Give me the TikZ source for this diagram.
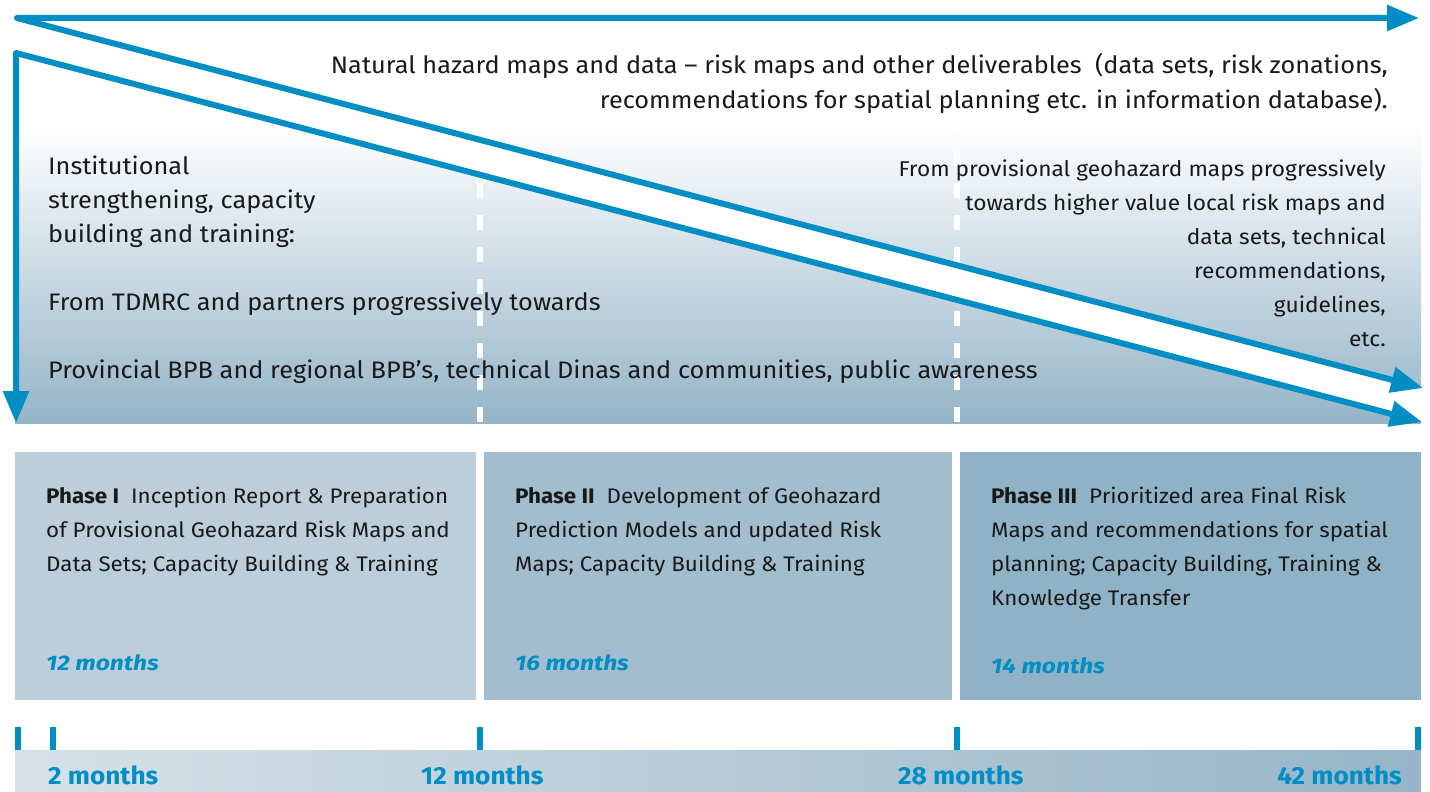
\documentclass[tikz,border=0pt]{standalone}
\usepackage{fontspec}
\setmainfont{Fira Sans}[FakeStretch=1.06]
\usetikzlibrary{arrows.meta}
\definecolor{arrowblue}{RGB}{0,142,196}
\definecolor{bgbottom}{RGB}{148,180,200}
\definecolor{phaseA}{RGB}{188,206,218}
\definecolor{phaseB}{RGB}{161,189,206}
\definecolor{phaseC}{RGB}{144,178,199}
\definecolor{barleft}{RGB}{214,225,232}
\definecolor{barright}{RGB}{150,181,200}
\definecolor{txt}{RGB}{25,25,25}
\tikzset{
  bigarrow/.style={draw=arrowblue, line width=6pt, line join=round,
     {Triangle[length=32pt,width=25pt]}-{Triangle[length=32pt,width=25pt]}},
  divider/.style={draw=white, line width=6pt, dash pattern=on 15pt off 17pt},
  tickmark/.style={draw=arrowblue, line width=6pt},
  maintext/.style={inner sep=0pt, text=txt, font=\fontsize{23.9}{34}\selectfont},
  sidetext/.style={inner sep=0pt, text=txt, font=\fontsize{21.4}{34}\selectfont},
  phasetext/.style={inner sep=0pt, text=txt, anchor=base west, font=\fontsize{21.1}{34}\selectfont},
  duration/.style={inner sep=0pt, text=arrowblue, anchor=base west, font=\fontsize{21}{34}\selectfont\bfseries\itshape\addfontfeature{FakeStretch=1.17}},
  milestone/.style={inner sep=0pt, text=arrowblue, font=\fontsize{24.7}{34}\selectfont\bfseries},
}
\begin{document}
\begin{tikzpicture}[x=1pt,y=-1pt]
\useasboundingbox (0,0) rectangle (1430,792);
% background gradient
\fill[white] (15,17) rectangle (1421,125);
\shade[top color=white, bottom color=bgbottom] (15,125) rectangle (1421,423);
% coordinates of arrows
\coordinate (c1) at (17,18);
\coordinate (tipA) at (1419,18);
\coordinate (tipB) at (1423,388);
\coordinate (c2) at (16,53);
\coordinate (tipD) at (16,423);
\coordinate (tipC) at (1422,422);
% white band between diagonals
\fill[white] (c1) -- (tipB) -- (tipC) -- (c2) -- cycle;
% dashed dividers
\coordinate (d1t) at (480,119);
\coordinate (d1b) at (480,423);
\coordinate (d2t) at (957,119);
\coordinate (d2b) at (957,423);
\draw[divider] (d1t) -- (d1b);
\draw[divider] (d2t) -- (d2b);
% arrows
\draw[bigarrow] (tipA) -- (c1) -- (tipB);
\draw[bigarrow] (tipD) -- (c2) -- (tipC);
% top texts
\node[maintext, anchor=base east] (t1) at (1388,74) {Natural hazard maps and data – risk maps and other deliverables\ \ (data sets, risk zonations,};
\node[maintext, anchor=base east] (t2) at (1388,108) {recommendations for spatial planning etc. in information database).};
% left texts
\node[maintext, anchor=base west] (l1) at (48,174) {Institutional};
\node[maintext, anchor=base west] (l2) at (48,208) {strengthening, capacity};
\node[maintext, anchor=base west] (l3) at (48,242) {building and training:};
\node[maintext, anchor=base west] (l4) at (48,310) {From TDMRC and partners progressively towards};
\node[maintext, anchor=base west] (l5) at (48,378) {Provincial BPB and regional BPB’s, technical Dinas and communities, public awareness};
% right texts
\node[sidetext, anchor=base east] (r1) at (1386,176) {From provisional geohazard maps progressively};
\node[sidetext, anchor=base east] (r2) at (1386,210) {towards higher value local risk maps and};
\node[sidetext, anchor=base east] (r3) at (1386,244) {data sets, technical};
\node[sidetext, anchor=base east] (r4) at (1386,278) {recommendations,};
\node[sidetext, anchor=base east] (r5) at (1386,312) {guidelines,};
\node[sidetext, anchor=base east] (r6) at (1386,346) {etc.};
% phase boxes
\fill[phaseA] (15,452) rectangle (476,700);
\fill[phaseB] (484,452) rectangle (952,700);
\fill[phaseC] (960,452) rectangle (1421,700);
% phase I
\node[phasetext] (p1a) at (46,503) {\textbf{Phase I}\hspace{12pt}Inception Report \& Preparation};
\node[phasetext] (p1b) at (46,537) {of Provisional Geohazard Risk Maps and};
\node[phasetext] (p1c) at (46,571) {Data Sets; Capacity Building \& Training};
\node[duration] (m1) at (46,670) {12 months};
% phase II
\node[phasetext] (p2a) at (515,503) {\textbf{Phase II}\hspace{12pt}Development of Geohazard};
\node[phasetext] (p2b) at (515,537) {Prediction Models and updated Risk};
\node[phasetext] (p2c) at (515,571) {Maps; Capacity Building \& Training};
\node[duration] (m2) at (515,670) {16 months};
% phase III
\node[phasetext] (p3a) at (991,503) {\textbf{Phase III}\hspace{12pt}Prioritized area Final Risk};
\node[phasetext] (p3b) at (991,537) {Maps and recommendations for spatial};
\node[phasetext] (p3c) at (991,571) {planning; Capacity Building, Training \&};
\node[phasetext] (p3d) at (991,605) {Knowledge Transfer};
\node[duration] (m3) at (991,673) {14 months};
% timeline bar
\shade[left color=barleft, right color=barright] (15,750) rectangle (1421,792);
\coordinate (k1t) at (18,727);   \coordinate (k1b) at (18,750);
\coordinate (k2t) at (53,727);   \coordinate (k2b) at (53,750);
\coordinate (k3t) at (480,727);  \coordinate (k3b) at (480,750);
\coordinate (k4t) at (957,727);  \coordinate (k4b) at (957,750);
\coordinate (k5t) at (1418,727); \coordinate (k5b) at (1418,750);
\draw[tickmark] (k1t) -- (k1b);
\draw[tickmark] (k2t) -- (k2b);
\draw[tickmark] (k3t) -- (k3b);
\draw[tickmark] (k4t) -- (k4b);
\draw[tickmark] (k5t) -- (k5b);
\node[milestone, anchor=base west] (ms1) at (48,784) {2 months};
\node[milestone, anchor=base west] (ms2) at (421,784) {12 months};
\node[milestone, anchor=base west] (ms3) at (898,784) {28 months};
\node[milestone, anchor=base east] (ms4) at (1402,784) {42 months};
\end{tikzpicture}
\end{document}
